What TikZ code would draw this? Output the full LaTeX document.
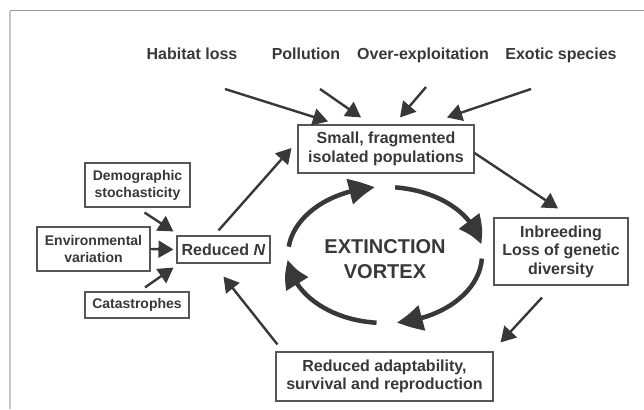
\documentclass[tikz,border=0pt]{standalone}
\usepackage{fontspec}
\setmainfont{Liberation Sans}
\usepackage{xcolor}
\usepackage{tikz}
\usetikzlibrary{arrows.meta}
\usetikzlibrary{bending}
\usetikzlibrary{positioning}
\definecolor{ink}{HTML}{383838}
\definecolor{edge}{HTML}{9A9A9A}

\begin{document}
\begin{tikzpicture}[x=1pt,y=-1pt,
    box/.style={draw=ink!85,line width=1.1pt,text=ink,align=center,inner sep=0,font=\bfseries\fontsize{16}{18.5}\selectfont},
    sbox/.style={box,font=\bfseries\fontsize{14}{17}\selectfont},
    lab/.style={text=ink,inner sep=0,anchor=base,font=\bfseries\fontsize{16}{18.5}\selectfont},
    arr/.style={draw=ink,line width=2.4pt,-{Triangle[length=15pt,width=17pt]}},
    vortex/.style={draw=ink,line width=4.5pt,-{Triangle[length=26pt,width=25pt,bend]}}]
    \useasboundingbox (0,0) rectangle (644,409);
    \draw[edge,line width=1pt] (644,11) -- (10,11);
    \draw[edge!55,line width=1.2pt] (10,11) -- (10,409);

    \node(hab)[lab] at (192,60) {Habitat loss};
    \node(pol)[lab] at (306,60) {Pollution};
    \node(ovr)[lab] at (423,60) {Over-exploitation};
    \node(exo)[lab] at (561,60) {Exotic species};

    \node(small)[box,minimum width=176pt,minimum height=48pt] at (386,149) {Small, fragmented\\isolated populations};
    \node(inb)[box,minimum width=134pt,minimum height=67pt] at (561,251.5) {Inbreeding\\Loss of genetic\\diversity};
    \node(adapt)[box,minimum width=217pt,minimum height=49pt] at (384.5,376.5) {Reduced adaptability,\\survival and reproduction};
    \node(redn)[box,minimum width=93pt,minimum height=27pt] at (223.5,249.5) {Reduced \textit{N}};
    \node(demo)[sbox,minimum width=105pt,minimum height=44pt] at (137.5,185) {Demographic\\stochasticity};
    \node(env)[sbox,minimum width=113pt,minimum height=44pt] at (93.5,249) {Environmental\\variation};
    \node(cat)[sbox,minimum width=104pt,minimum height=26pt] at (137,305) {Catastrophes};

    \coordinate(vc) at (385,255);
    \node(ev)[text=ink,align=center,font=\bfseries\fontsize{20}{25}\selectfont] at (385,259) {EXTINCTION\\VORTEX};

    \draw[arr] ([xshift=33pt,yshift=-29pt]hab.base) -- ([xshift=-58pt,yshift=3pt]small.north);
    \draw[arr] ([xshift=14pt,yshift=-29pt]pol.base) -- ([xshift=-25pt,yshift=7pt]small.north);
    \draw[arr] ([xshift=3pt,yshift=-27pt]ovr.base) -- ([xshift=14pt,yshift=7pt]small.north);
    \draw[arr] ([xshift=-30pt,yshift=-29pt]exo.base) -- ([xshift=61pt,yshift=7pt]small.north);

    \draw[arr] ([yshift=-4pt]small.east) -- ([xshift=-3pt,yshift=9pt]inb.north);
    \draw[arr] ([xshift=-19pt,yshift=-12pt]inb.south) -- ([xshift=7pt,yshift=9pt]adapt.north east);
    \draw[arr] ([xshift=2pt,yshift=7pt]adapt.north west) -- ([yshift=-13pt]redn.south);
    \draw[arr] ([xshift=-5pt,yshift=5pt]redn.north) -- ([xshift=-6pt,yshift=1pt]small.west);

    \draw[arr] ([xshift=7pt,yshift=-5pt]demo.south) -- ([xshift=-3pt,yshift=4pt]redn.north west);
    \draw[arr] (env.east) -- ([xshift=-3pt]redn.west);
    \draw[arr] ([xshift=8pt,yshift=4pt]cat.north) -- ([xshift=-3pt,yshift=-4pt]redn.south west);

    \draw[vortex] ([shift={(-84:97 and 68)}]vc) arc[start angle=-84,end angle=-9,x radius=97,y radius=68];
    \draw[vortex] ([shift={(3:97 and 68)}]vc) arc[start angle=3,end angle=83,x radius=97,y radius=68];
    \draw[vortex] ([shift={(95:97 and 68)}]vc) arc[start angle=95,end angle=176,x radius=97,y radius=68];
    \draw[vortex] ([shift={(187:97 and 68)}]vc) arc[start angle=187,end angle=264,x radius=97,y radius=68];
\end{tikzpicture}
\end{document}
